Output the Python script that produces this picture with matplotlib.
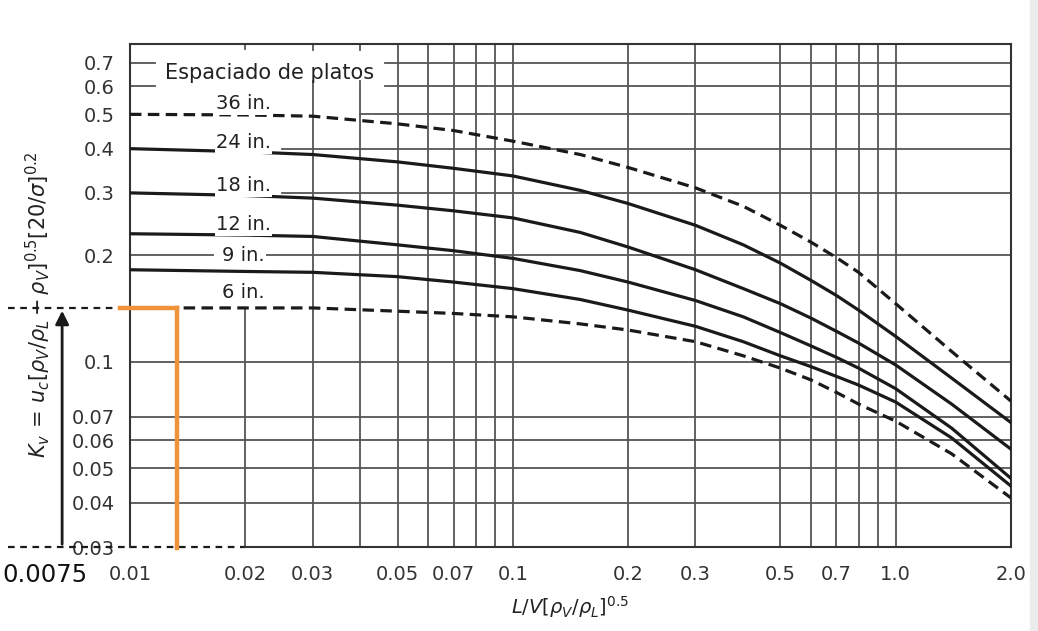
import matplotlib
matplotlib.use('Agg')
import matplotlib.pyplot as plt
import matplotlib.transforms as mtransforms

# flow parameter L/V (rho_V/rho_L)^0.5
flow_param = [0.01, 0.02, 0.03, 0.05, 0.07, 0.1, 0.15, 0.2, 0.3, 0.4, 0.5,
              0.6, 0.7, 0.8, 1.0, 1.4, 2.0]

# K_v for each tray spacing
kv_36 = [0.500, 0.498, 0.494, 0.470, 0.450, 0.420, 0.385, 0.354, 0.310, 0.275, 0.243,
         0.218, 0.197, 0.179, 0.146, 0.107, 0.0775]
kv_24 = [0.400, 0.392, 0.385, 0.367, 0.352, 0.335, 0.305, 0.280, 0.243, 0.214, 0.190,
         0.170, 0.154, 0.140, 0.118, 0.090, 0.0674]
kv_18 = [0.300, 0.295, 0.290, 0.277, 0.267, 0.255, 0.232, 0.211, 0.182, 0.161, 0.146,
         0.133, 0.122, 0.113, 0.098, 0.076, 0.0567]
kv_12 = [0.230, 0.228, 0.226, 0.214, 0.206, 0.196, 0.181, 0.168, 0.149, 0.134, 0.121,
         0.111, 0.103, 0.096, 0.084, 0.065, 0.0469]
kv_9 = [0.182, 0.180, 0.179, 0.174, 0.168, 0.161, 0.150, 0.140, 0.126, 0.114, 0.104,
        0.097, 0.091, 0.086, 0.077, 0.061, 0.0446]
kv_6 = [0.142, 0.142, 0.142, 0.139, 0.137, 0.134, 0.128, 0.123, 0.114, 0.104, 0.096,
        0.089, 0.082, 0.076, 0.068, 0.055, 0.0413]

spacing_labels = ['36 in.', '24 in.', '18 in.', '12 in.', '9 in.', '6 in.']
label_y = [0.535, 0.415, 0.314, 0.244, 0.200, 0.157]

xtick_vals = [0.01, 0.02, 0.03, 0.05, 0.07, 0.1, 0.2, 0.3, 0.5, 0.7, 1.0, 2.0]
xtick_text = ['0.01', '0.02', '0.03', '0.05', '0.07', '0.1', '0.2', '0.3', '0.5', '0.7', '1.0', '2.0']
ytick_vals = [0.03, 0.04, 0.05, 0.06, 0.07, 0.1, 0.2, 0.3, 0.4, 0.5, 0.6, 0.7]
ytick_text = ['0.03', '0.04', '0.05', '0.06', '0.07', '0.1', '0.2', '0.3', '0.4', '0.5', '0.6', '0.7']

vgrid_full = [0.05, 0.06, 0.07, 0.08, 0.09, 0.1, 0.2, 0.3, 0.5, 0.6, 0.7, 0.8, 0.9, 1.0]
vgrid_cut = [0.03, 0.04]
hgrid_full = [0.04, 0.05, 0.06, 0.07, 0.1]

# example point drawn in orange
guide_x = 0.0133
guide_y = 0.142

GRID = '#555555'
INK = '#1a1a1a'

fig = plt.figure(figsize=(10.38, 6.31), dpi=100)
ax = fig.add_axes([0.1252, 0.1331, 0.8487, 0.7972])
ax.set_xscale('log')
ax.set_yscale('log')
ax.set_xlim(0.01, 2.0)
ax.set_ylim(0.03, 0.79)

# page edge of the scan
fig.patches.append(plt.Rectangle((0.992, 0), 0.008, 1, transform=fig.transFigure,
                                 color='#ececec', zorder=-1))

# grid lines, cut where the labels sit
glw = 1.3
for v in vgrid_full:
    ax.plot([v, v], [0.03, 0.79], color=GRID, lw=glw, zorder=1)
for v in vgrid_cut:
    ax.plot([v, v], [0.03, 0.62], color=GRID, lw=glw, zorder=1)
    ax.plot([v, v], [0.76, 0.79], color=GRID, lw=glw, zorder=1)
ax.plot([0.02, 0.02], [0.03, guide_y], color=GRID, lw=glw, zorder=1)
ax.plot([0.02, 0.02], [0.765, 0.79], color=GRID, lw=glw, zorder=1)
for h in hgrid_full:
    ax.plot([0.01, 2.0], [h, h], color=GRID, lw=glw, zorder=1)
for h in [0.6, 0.7]:
    ax.plot([0.01, 0.0116], [h, h], color=GRID, lw=glw, zorder=1)
    ax.plot([0.0463, 2.0], [h, h], color=GRID, lw=glw, zorder=1)
ax.plot([0.04, 2.0], [0.5, 0.5], color=GRID, lw=glw, zorder=1)
for h in [0.3, 0.4]:
    ax.plot([0.0249, 2.0], [h, h], color=GRID, lw=glw, zorder=1)
ax.plot([0.01, 0.0165], [0.2, 0.2], color=GRID, lw=glw, zorder=1)
ax.plot([0.0208, 2.0], [0.2, 0.2], color=GRID, lw=glw, zorder=1)

# curves
dash = (3.6, 2.0)
clw = 2.3
ax.plot(flow_param, kv_36, color=INK, lw=clw, dashes=dash, zorder=3)
ax.plot(flow_param, kv_24, color=INK, lw=clw, zorder=3)
ax.plot(flow_param, kv_18, color=INK, lw=clw, zorder=3)
ax.plot(flow_param, kv_12, color=INK, lw=clw, zorder=3)
ax.plot(flow_param, kv_9, color=INK, lw=clw, zorder=3)
ax.plot(flow_param, kv_6, color=INK, lw=clw, dashes=dash, zorder=3)

for lab, ly in zip(spacing_labels, label_y):
    ax.text(0.0198, ly, lab, ha='center', va='center', fontsize=14, color='#222222',
            bbox=dict(facecolor='white', edgecolor='none', pad=1.0), zorder=4)
ax.text(0.0232, 0.655, 'Espaciado de platos', ha='center', va='center', fontsize=15,
        color='#222222', zorder=4)

# axes styling
for s in ax.spines.values():
    s.set_color('#333333')
    s.set_linewidth(1.5)
ax.spines['bottom'].set_bounds(0.02, 2.0)
ax.set_xticks(xtick_vals)
ax.set_xticklabels(xtick_text)
ax.set_yticks(ytick_vals)
ax.set_yticklabels(ytick_text)
ax.minorticks_off()
ax.tick_params(axis='x', length=0, pad=13, labelsize=14, labelcolor='#333333')
ax.tick_params(axis='y', length=0, pad=11, labelsize=14, labelcolor='#333333')

# annotations outside the box
tr = mtransforms.blended_transform_factory(ax.transAxes, ax.transData)
ax.plot([-0.138, 0.0], [guide_y, guide_y], transform=tr, color=INK, lw=1.6,
        dashes=(3, 2.5), clip_on=False)
ax.plot([-0.138, 0.0], [0.03, 0.03], transform=tr, color=INK, lw=1.6,
        dashes=(3, 2.5), clip_on=False)
ax.plot([0.01, 0.02], [0.03, 0.03], color=INK, lw=1.6, dashes=(3, 2.5), clip_on=False)
ax.annotate('', xy=(-0.077, guide_y), xytext=(-0.077, 0.03), xycoords=tr, textcoords=tr,
            arrowprops=dict(arrowstyle='-|>', lw=2.0, color=INK, mutation_scale=20),
            annotation_clip=False)
ax.plot([0.0094, guide_x], [guide_y, guide_y], color='#f0923a', lw=3.2, clip_on=False, zorder=5)
ax.plot([guide_x, guide_x], [guide_y, 0.0298], color='#f0923a', lw=3.2, clip_on=False, zorder=5)

ax.text(-0.0965, -0.056, '0.0075', transform=ax.transAxes, ha='center', va='center',
        fontsize=17.5, color='#111111')
ax.text(-0.104, 0.481, r'$K_v\,=\,u_c[\rho_V/\rho_L-\rho_V]^{0.5}[20/\sigma]^{0.2}$',
        transform=ax.transAxes, rotation=90, ha='center', va='center', fontsize=15,
        color='#222222')
ax.text(0.499, -0.119, r'$L/V[\rho_V/\rho_L]^{0.5}$', transform=ax.transAxes,
        ha='center', va='center', fontsize=14, color='#222222')

fig.savefig('out.png', dpi=100)
